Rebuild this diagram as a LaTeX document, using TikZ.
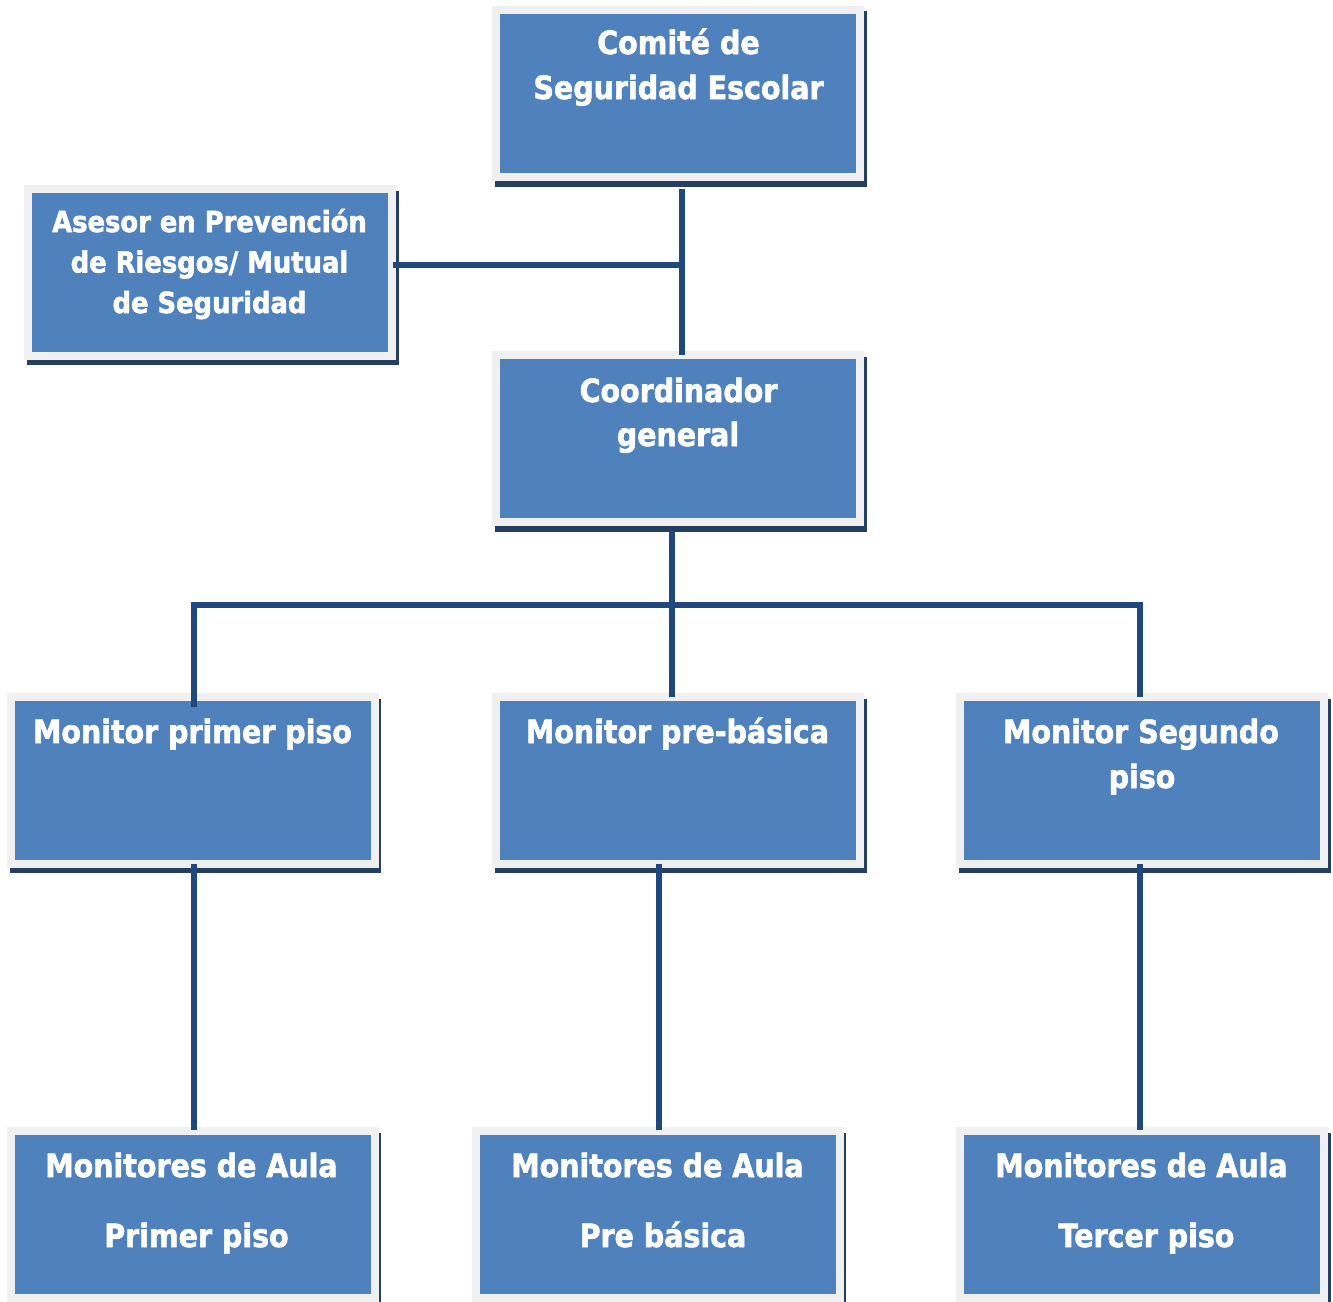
\documentclass[tikz,border=0pt]{standalone}
\usepackage{fontspec}
\newfontfamily\boxfont{DejaVu Sans}[FakeStretch=0.89, BoldFeatures={FakeBold=1.8}]
\usetikzlibrary{calc}
\definecolor{boxgray}{HTML}{F0F0F0}
\definecolor{boxblue}{HTML}{4F81BD}
\definecolor{shadowc}{HTML}{243F60}
\definecolor{connc}{HTML}{1F497D}
\tikzset{
  orgbox/.style={fill=boxblue, draw=boxgray, line width=8pt, inner sep=0pt,
    outer sep=0pt, minimum width=364pt, minimum height=167pt},
  conn/.style={draw=connc, line width=6pt, line join=miter},
  txt/.style={text=white, inner sep=0pt, anchor=base,
    font=\boxfont\bfseries\fontsize{32}{38}\selectfont},
  txtsmall/.style={txt, font=\boxfont\bfseries\fontsize{29}{35}\selectfont}
}
\begin{document}
\begin{tikzpicture}[x=1pt,y=-1pt]
\useasboundingbox (0,0) rectangle (1333,1301);
% shadows
\fill[shadowc] (495,11) rectangle (867,187);
\fill[shadowc] (27,191) rectangle (399,365);
\fill[shadowc] (495,357) rectangle (867,532);
\fill[shadowc] (10,699) rectangle (381,873);
\fill[shadowc] (495,699) rectangle (867,873);
\fill[shadowc] (959,699) rectangle (1331,873);
\fill[shadowc] (10,1133) rectangle (381,1310);
\fill[shadowc] (475,1133) rectangle (846,1310);
\fill[shadowc] (959,1133) rectangle (1331,1310);
% boxes
\node[orgbox] (comite) at (678,93) {};
\node[orgbox] (asesor) at (210,272) {};
\node[orgbox] (coord) at (678,438.5) {};
\node[orgbox] (mon1) at (192.5,780) {};
\node[orgbox] (mon2) at (678,780) {};
\node[orgbox] (mon3) at (1142,780) {};
\node[orgbox] (aula1) at (192.5,1214.5) {};
\node[orgbox] (aula2) at (657.5,1214.5) {};
\node[orgbox] (aula3) at (1142,1214.5) {};
% texts
\node[txt] (tcomA) at (678.5,54) {Comité de};
\node[txt] (tcomB) at (678.5,99) {Seguridad Escolar};
\node[txtsmall] (tasA) at (209.5,232) {Asesor en Prevención};
\node[txtsmall] (tasB) at (209.5,272.5) {de Riesgos/ Mutual};
\node[txtsmall] (tasC) at (209.5,313) {de Seguridad};
\node[txt] (tcoA) at (678.5,402) {Coordinador};
\node[txt] (tcoB) at (678,446) {general};
\node[txt] (tm1) at (192.5,743) {Monitor primer piso};
\node[txt] (tm2) at (677.5,743) {Monitor pre-básica};
\node[txt] (tm3A) at (1141,743) {Monitor Segundo};
\node[txt] (tm3B) at (1142,788) {piso};
\node[txt] (ta1A) at (191.5,1177) {Monitores de Aula};
\node[txt] (ta1B) at (196.5,1247) {Primer piso};
\node[txt] (ta2A) at (657.5,1177) {Monitores de Aula};
\node[txt] (ta2B) at (663,1247) {Pre básica};
\node[txt] (ta3A) at (1141.5,1177) {Monitores de Aula};
\node[txt] (ta3B) at (1146.5,1247) {Tercer piso};
% connectors
\coordinate (j1) at ($(comite.south)+(4,88.5)$);
\draw[conn] ($(comite.south)+(4,12.5)$) -- ($(coord.north)+(4,0)$);
\draw[conn] ($(asesor.east)+(1,-7)$) -- (j1);
\draw[conn] ($(coord.south)+(-6,9)$) -- ($(mon2.north)+(-6,0.5)$);
\draw[conn] ($(mon1.north)+(1.5,10.5)$) |- ($(coord.south)+(-6,83)$) -| ($(mon3.north)+(-2,0.5)$);
\draw[conn] ($(mon1.south)+(1.5,0.5)$) -- ($(aula1.north)+(1.5,-1)$);
\draw[conn] ($(mon2.south)+(-19.5,0.5)$) -- ($(aula2.north)+(1,-1)$);
\draw[conn] ($(mon3.south)+(-2,0.5)$) -- ($(aula3.north)+(-2,-1)$);
\end{tikzpicture}
\end{document}
